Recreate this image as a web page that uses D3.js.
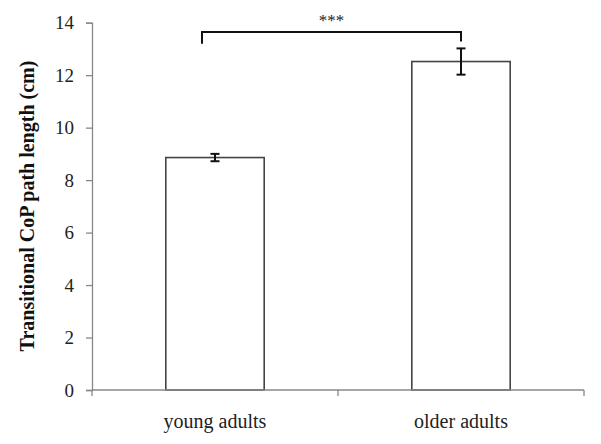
<!doctype html>
<html>
<head>
<script src="https://d3js.org/d3.v7.min.js"></script>
<style>
  body { margin: 0; background: #fff; }
  text { font-family: "Liberation Serif", "Times New Roman", serif; }
</style>
</head>
<body>
<svg width="601" height="444"></svg>
<script>
// data
var groups = ["young adults", "older adults"];
var means = [8.86, 12.52];
var errors = [0.14, 0.5];
var yTicks = [0, 2, 4, 6, 8, 10, 12, 14];

var svg = d3.select("svg");
var plotLeft = 92, plotRight = 584, plotTop = 22.7, plotBottom = 390;

var x = d3.scaleBand().domain(groups).range([plotLeft, plotRight]);
var y = d3.scaleLinear().domain([0, 14]).range([plotBottom, plotTop]);
var barW = x.bandwidth() * 0.4;

// y axis
var yAxis = svg.append("g")
  .attr("transform", "translate(" + plotLeft + ",0)")
  .call(d3.axisLeft(y).tickValues(yTicks).tickSize(6).tickPadding(12))
  .attr("font-family", "'Liberation Serif', serif")
  .attr("font-size", 19);
yAxis.select(".domain").attr("stroke", "#888").attr("stroke-width", 1.3);
yAxis.selectAll(".tick line").attr("stroke", "#888").attr("stroke-width", 1.3);
yAxis.selectAll(".tick text")
  .attr("fill", "#222");

// bars
svg.selectAll("rect.bar")
  .data(groups)
  .enter()
  .append("rect")
  .attr("class", "bar")
  .attr("x", function(d) { return x(d) + (x.bandwidth() - barW) / 2; })
  .attr("y", function(d, i) { return y(means[i]); })
  .attr("width", barW)
  .attr("height", function(d, i) { return plotBottom - y(means[i]); })
  .attr("fill", "#fff")
  .attr("stroke", "#444")
  .attr("stroke-width", 1.6);

// x axis (drawn after bars so it sits on top)
var xAxis = svg.append("g")
  .attr("transform", "translate(0," + plotBottom + ")");
xAxis.append("line")
  .attr("x1", plotLeft).attr("x2", plotRight)
  .attr("stroke", "#888").attr("stroke-width", 1.3);
xAxis.selectAll("line.sep")
  .data([plotLeft, x(groups[1]), plotRight])
  .enter()
  .append("line")
  .attr("class", "sep")
  .attr("x1", function(d) { return d; })
  .attr("x2", function(d) { return d; })
  .attr("y1", 0).attr("y2", 6)
  .attr("stroke", "#888").attr("stroke-width", 1.3);
xAxis.selectAll("text")
  .data(groups)
  .enter()
  .append("text")
  .attr("x", function(d) { return x(d) + x.bandwidth() / 2; })
  .attr("y", 38)
  .attr("text-anchor", "middle")
  .attr("font-size", "20px")
  .attr("fill", "#222")
  .text(function(d) { return d; });

// error bars
var eb = svg.selectAll("g.err")
  .data(groups)
  .enter()
  .append("g")
  .attr("class", "err")
  .attr("stroke", "#111")
  .attr("stroke-width", 2);
eb.append("line")
  .attr("x1", function(d) { return x(d) + x.bandwidth() / 2; })
  .attr("x2", function(d) { return x(d) + x.bandwidth() / 2; })
  .attr("y1", function(d, i) { return y(means[i] + errors[i]); })
  .attr("y2", function(d, i) { return y(means[i] - errors[i]); });
eb.selectAll("line.cap")
  .data(function(d, i) { return [[d, means[i] + errors[i]], [d, means[i] - errors[i]]]; })
  .enter()
  .append("line")
  .attr("class", "cap")
  .attr("x1", function(d) { return x(d[0]) + x.bandwidth() / 2 - 4.5; })
  .attr("x2", function(d) { return x(d[0]) + x.bandwidth() / 2 + 4.5; })
  .attr("y1", function(d) { return y(d[1]); })
  .attr("y2", function(d) { return y(d[1]); });

// significance bracket
var bx1 = x(groups[0]) + x.bandwidth() / 2 - 13;
var bx2 = x(groups[1]) + x.bandwidth() / 2;
var by = y(13.65);
svg.append("path")
  .attr("d", "M" + bx1 + "," + y(13.2) + "V" + by + "H" + bx2 + "V" + y(13.28))
  .attr("fill", "none")
  .attr("stroke", "#111")
  .attr("stroke-width", 2);
svg.append("text")
  .attr("x", (bx1 + bx2) / 2 + 0)
  .attr("y", 26)
  .attr("text-anchor", "middle")
  .attr("font-size", "17px")
  .attr("fill", "#222")
  .text("***");

// y label
svg.append("text")
  .attr("transform", "translate(34," + 206 + ") rotate(-90)")
  .attr("text-anchor", "middle")
  .attr("font-size", "20px")
  .attr("font-weight", "bold")
  .attr("fill", "#111")
  .text("Transitional CoP path length (cm)");
</script>
</body>
</html>
